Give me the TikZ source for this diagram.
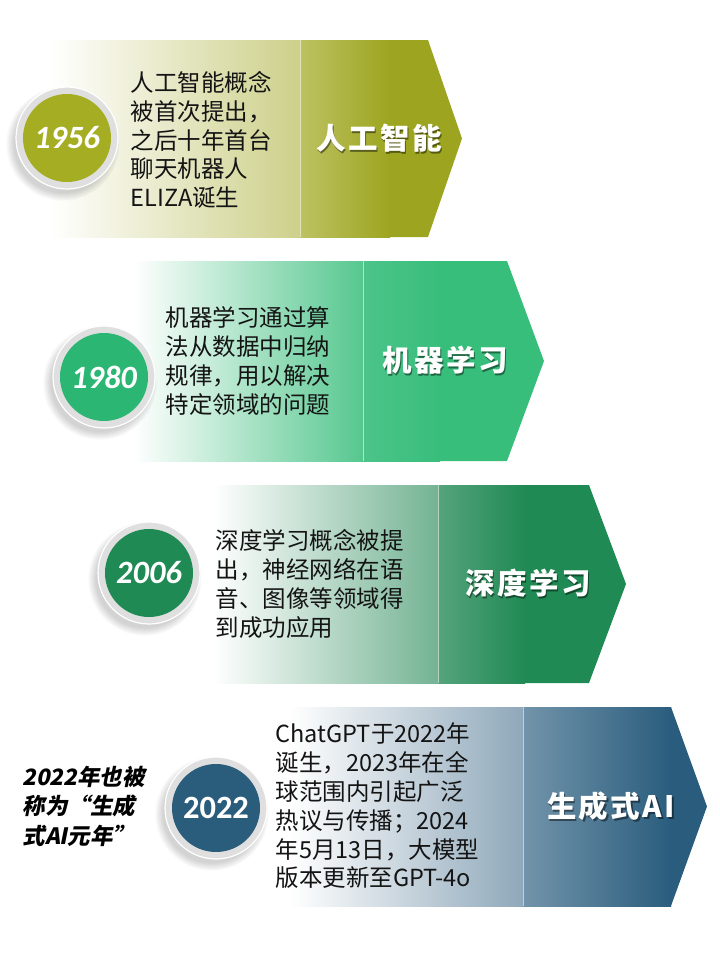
\documentclass[tikz,border=0pt]{standalone}
\usepackage{fontspec}
\setmainfont{Noto Sans CJK SC}
\newfontfamily\yearfont{Carlito}
\newfontfamily\notefont[FakeSlant=0.2]{Noto Sans CJK SC}
\newfontfamily\titlefont[LetterSpace=8]{Noto Sans CJK SC}
\usetikzlibrary{shadows}

\definecolor{olivebase}{HTML}{9DA520}
\definecolor{olivemid}{HTML}{CDD08A}
\definecolor{oliveright}{HTML}{BDC262}
\definecolor{olivedot}{HTML}{A5AD22}
\definecolor{greenbase}{HTML}{38BE7B}
\definecolor{greenmid}{HTML}{56C78F}
\definecolor{greenright}{HTML}{4CC48A}
\definecolor{greendot}{HTML}{2CB673}
\definecolor{deepbase}{HTML}{208A54}
\definecolor{deepmid}{HTML}{74B393}
\definecolor{deepright}{HTML}{55A37C}
\definecolor{deepdot}{HTML}{1F8A53}
\definecolor{bluebase}{HTML}{2A5D7D}
\definecolor{bluemid}{HTML}{8FA8BA}
\definecolor{blueright}{HTML}{7294AA}
\definecolor{bluedot}{HTML}{2A5C7C}

\begin{document}
\begin{tikzpicture}[x=1pt, y=-1pt, %Historia de la IA
    body/.style={anchor=west, align=left, text=black!92, font=\fontsize{23.5}{28.8}\selectfont},
    title/.style={text=white, font=\titlefont\bfseries\fontsize{29.5}{31}\selectfont},
    tshadow/.style={text=black, opacity=0.45, font=\titlefont\bfseries\fontsize{29.5}{31}\selectfont},
    year/.style={text=white, font=\yearfont\bfseries\itshape\fontsize{32.5}{34}\selectfont},
    ring/.style={fill=gray!25, draw=white, line width=1.2pt,
        circular drop shadow={shadow xshift=-4pt, shadow yshift=-5pt, shadow scale=1.12, opacity=0.35}},
    sep/.style={white, opacity=0.55, line width=0.8pt}]

            \useasboundingbox (0,0) rectangle (720,953);

            % 1956
            \coordinate (A1) at (50,40);
            \coordinate (B1) at (300,40);
            \coordinate (C1) at (428,40);
            \coordinate (D1) at (462,138.5);
            \coordinate (E1) at (428,237);
            \coordinate (F1) at (300,237);
            \coordinate (O1) at (67,138);

            \shade[left color=white, right color=olivemid] (A1) rectangle (F1);
            \fill[olivebase] (B1) -- (C1) -- (D1) -- (E1) -- (F1) -- cycle;
            \shade[left color=oliveright, right color=olivebase] (B1) rectangle (390,237);
            \draw[sep] (B1) -- (F1);

            \filldraw[ring] (O1) circle (51pt);
            \fill[olivedot] (O1) circle (44pt);
            \node[year] (Y1) at (O1) {1956};
            \node[body] (T1) at (127,140) {人工智能概念\\被首次提出，\\之后十年首台\\聊天机器人\\ELIZA诞生};
            \node[tshadow] (S1) at (380.5,140) {人工智能};
            \node[title] (H1) at (379,138.5) {人工智能};

            % 1980
            \coordinate (A2) at (133,261);
            \coordinate (B2) at (363,261);
            \coordinate (C2) at (507,261);
            \coordinate (D2) at (544,361);
            \coordinate (E2) at (507,461);
            \coordinate (F2) at (363,461);
            \coordinate (O2) at (104,377);

            \shade[left color=white, right color=greenmid] (A2) rectangle (F2);
            \fill[greenbase] (B2) -- (C2) -- (D2) -- (E2) -- (F2) -- cycle;
            \shade[left color=greenright, right color=greenbase] (B2) rectangle (440,461);
            \draw[sep] (B2) -- (F2);

            \filldraw[ring] (O2) circle (51pt);
            \fill[greendot] (O2) circle (44pt);
            \node[year] (Y2) at (O2) {1980};
            \node[body] (T2) at (162,361) {机器学习通过算\\法从数据中归纳\\规律，用以解决\\特定领域的问题};
            \node[tshadow] (S2) at (446.5,362) {机器学习};
            \node[title] (H2) at (445,360.5) {机器学习};

            % 2006
            \coordinate (A3) at (213,485);
            \coordinate (B3) at (438,485);
            \coordinate (C3) at (589,485);
            \coordinate (D3) at (626,584);
            \coordinate (E3) at (589,683);
            \coordinate (F3) at (438,683);
            \coordinate (O3) at (149,573);

            \shade[left color=white, right color=deepmid] (A3) rectangle (F3);
            \fill[deepbase] (B3) -- (C3) -- (D3) -- (E3) -- (F3) -- cycle;
            \shade[left color=deepright, right color=deepbase] (B3) rectangle (525,683);
            \draw[sep] (B3) -- (F3);

            \filldraw[ring] (O3) circle (51pt);
            \fill[deepdot] (O3) circle (44pt);
            \node[year] (Y3) at (O3) {2006};
            \node[body] (T3) at (212,584) {深度学习概念被提\\出，神经网络在语\\音、图像等领域得\\到成功应用};
            \node[tshadow] (S3) at (529.5,585) {深度学习};
            \node[title] (H3) at (528,583.5) {深度学习};

            % 2022
            \coordinate (A4) at (290,707);
            \coordinate (B4) at (523,707);
            \coordinate (C4) at (671,707);
            \coordinate (D4) at (707,806.5);
            \coordinate (E4) at (671,906);
            \coordinate (F4) at (523,906);
            \coordinate (O4) at (216,808);

            \shade[left color=white, right color=bluemid] (A4) rectangle (F4);
            \fill[bluebase] (B4) -- (C4) -- (D4) -- (E4) -- (F4) -- cycle;
            \shade[left color=blueright, right color=bluebase] (B4) rectangle (671,906);
            \draw[sep] (B4) -- (F4);

            \filldraw[ring] (O4) circle (51pt);
            \fill[bluedot] (O4) circle (44pt);
            \node[year, font=\yearfont\bfseries\fontsize{32.5}{34}\selectfont] (Y4) at (O4) {2022};
            \node[body] (T4) at (272,806) {ChatGPT于2022年\\诞生，2023年在全\\球范围内引起广泛\\热议与传播；2024\\年5月13日，大模型\\版本更新至GPT-4o};
            \node[tshadow] (S4) at (612.5,808) {生成式AI};
            \node[title] (H4) at (611,806.5) {生成式AI};

            \node[anchor=west, align=left, text=black, font=\notefont\bfseries\fontsize{22.5}{29.5}\selectfont] (N4) at (19,806) {2022年也被\\称为“生成\\式AI元年”};
        \end{tikzpicture}
\end{document}
